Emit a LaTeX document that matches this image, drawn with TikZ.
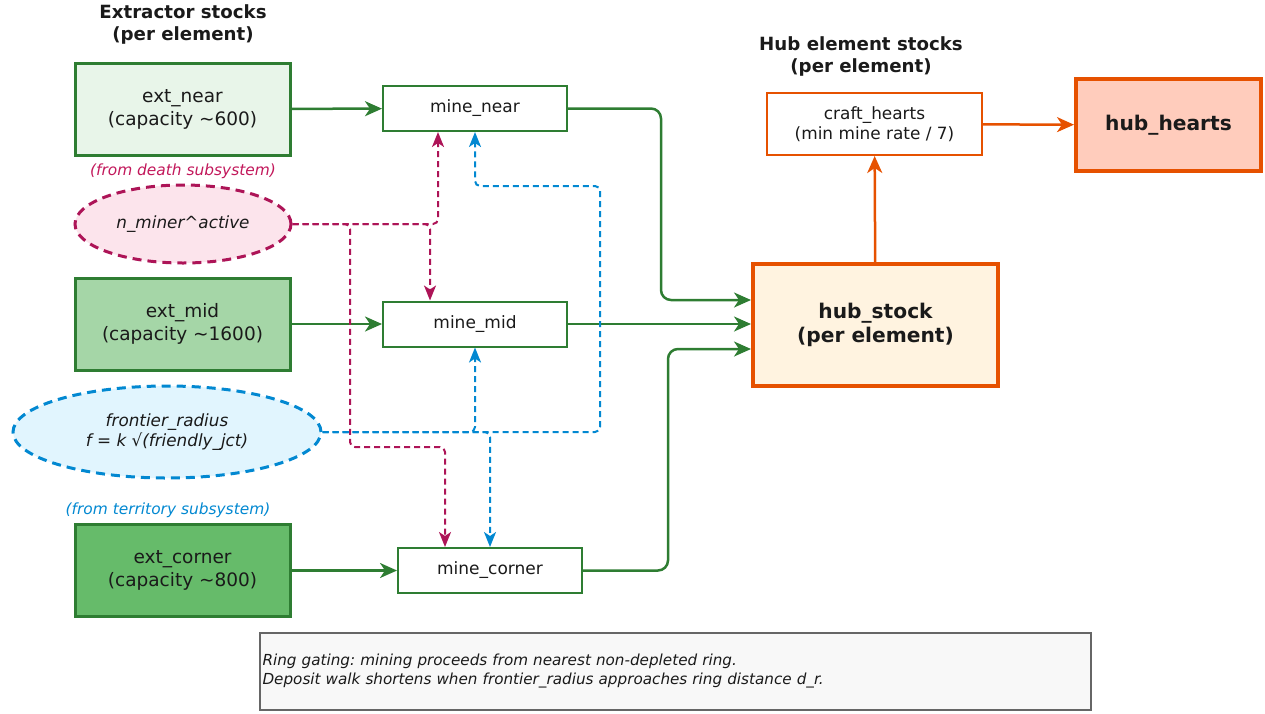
\documentclass[tikz,border=0pt]{standalone}
\usepackage{fontspec}
\setmainfont{DejaVu Sans}
\frenchspacing
\usetikzlibrary{arrows.meta,shapes.geometric,positioning}

\definecolor{flowgreen}{HTML}{2E7D32}
\definecolor{nearfill}{HTML}{E8F5E9}
\definecolor{midfill}{HTML}{A5D6A7}
\definecolor{cornerfill}{HTML}{66BB6A}
\definecolor{deathred}{HTML}{AD1457}
\definecolor{deathtext}{HTML}{C2185B}
\definecolor{deathfill}{HTML}{FCE4EC}
\definecolor{terrblue}{HTML}{0288D1}
\definecolor{terrfill}{HTML}{E1F5FE}
\definecolor{huborange}{HTML}{E65100}
\definecolor{hubfill}{HTML}{FFF3E0}
\definecolor{heartsfill}{HTML}{FFCCBC}
\definecolor{notefill}{HTML}{F8F8F8}
\definecolor{notegray}{HTML}{666666}
\definecolor{ink}{HTML}{1A1A1A}

\begin{document}
\begin{tikzpicture}
[x=1pt, y=-1pt, text=ink,
extbox/.style={rectangle, draw=flowgreen, line width=3pt, minimum width=215pt, minimum height=92pt, inner sep=0pt, align=center, font=\fontsize{18.5}{23}\selectfont},
minebox/.style={rectangle, draw=flowgreen, line width=2pt, fill=white, minimum width=184pt, minimum height=45pt, inner sep=0pt, font=\fontsize{17}{20}\selectfont},
source/.style={ellipse, draw, dashed, dash pattern=on 9pt off 6pt, line width=3pt, inner sep=0pt, align=center, font=\fontsize{16.8}{20}\selectfont\itshape},
sourcenote/.style={font=\fontsize{15.4}{18}\selectfont\itshape},
hubbox/.style={rectangle, draw=huborange, line width=4pt, inner sep=0pt, align=center, font=\fontsize{20.2}{24}\selectfont\bfseries},
heading/.style={align=center, font=\fontsize{18.2}{22}\selectfont\bfseries},
flow/.style={draw=flowgreen, line width=2.5pt, rounded corners=10pt, -{Stealth[length=17pt, width=15pt, inset=5pt]}},
hubflow/.style={draw=huborange, line width=2.5pt, -{Stealth[length=17pt, width=15pt, inset=5pt]}},
deathflow/.style={draw=deathred, line width=2pt, dashed, dash pattern=on 6pt off 4pt, rounded corners=5pt, -{Stealth[length=15pt, width=12pt, inset=4pt]}},
terrflow/.style={draw=terrblue, line width=2pt, dashed, dash pattern=on 6pt off 4pt, rounded corners=5pt, -{Stealth[length=15pt, width=12pt, inset=4pt]}}]

\useasboundingbox (0,0) rectangle (1265,713);

% headings
\node[heading] (extitle) at (183,24) {Extractor stocks\\(per element)};
\node[heading] (hubtitle) at (861,56) {Hub element stocks\\(per element)};

% extractor stocks and mining
\node[extbox, fill=nearfill] (ext_near) at (182.5,109) {ext\_near\\(capacity \textasciitilde600)};
\node[minebox] (mine_near) at (475,108.5) {mine\_near};

\node[extbox, fill=midfill] (ext_mid) at (182.5,324) {ext\_mid\\(capacity \textasciitilde1600)};
\node[minebox] (mine_mid) at (475,324) {mine\_mid};

\node[extbox, fill=cornerfill] (ext_corner) at (182.5,570.5) {ext\_corner\\(capacity \textasciitilde800)};
\node[minebox] (mine_corner) at (490,570.5) {mine\_corner};

% outside drivers
\node[sourcenote, text=deathtext] (deathlabel) at (183,171) {(from death subsystem)};
\node[source, draw=deathred, fill=deathfill, minimum width=216pt, minimum height=78pt] (n_miner) at (183,224) {n\_miner\textasciicircum active};

\node[source, draw=terrblue, fill=terrfill, minimum width=308pt, minimum height=92pt] (frontier) at (167,432) {frontier\_radius\\f = k √(friendly\_jct)};
\node[sourcenote, text=terrblue] (terrlabel) at (168,510) {(from territory subsystem)};

% hub
\node[hubbox, fill=hubfill, minimum width=245pt, minimum height=122pt] (hub_stock) at (875.5,325) {hub\_stock\\(per element)};
\node[rectangle, draw=huborange, line width=2pt, fill=white, minimum width=215pt, minimum height=62pt, inner sep=0pt, align=center, font=\fontsize{16.9}{20}\selectfont] (craft_hearts) at (874.5,124) {craft\_hearts\\(min mine rate / 7)};
\node[hubbox, fill=heartsfill, minimum width=185pt, minimum height=92pt] (hub_hearts) at (1168.5,125) {hub\_hearts};

% note
\node[rectangle, draw=notegray, line width=1.2pt, fill=notefill, minimum width=831pt, minimum height=77pt, text width=826pt, inner sep=2.5pt, align=left, font=\fontsize{15.2}{19}\selectfont\itshape] (note) at (675.5,671.5) {Ring gating: mining proceeds from nearest non-depleted ring.\\Deposit walk shortens when frontier\_radius approaches ring distance d\_r.};

% bends
\coordinate (dtap) at (350,447);
\coordinate (bloop) at (600,186);

% extraction
\draw[flow] (ext_near) -- (mine_near);
\draw[flow] (ext_mid) -- (mine_mid);
\draw[flow] (ext_corner) -- (mine_corner);

% into hub
\draw[flow] (mine_near.east) -- ++(93,0) |- ([yshift=25pt]hub_stock.west);
\draw[flow] (mine_mid.east) -- (mine_mid.east -| hub_stock.west);
\draw[flow] (mine_corner.east) -- ++(85,0) |- ([yshift=-24pt]hub_stock.west);
\draw[hubflow] (hub_stock) -- (craft_hearts);
\draw[hubflow] (craft_hearts) -- (hub_hearts);

% miner gating
\draw[deathflow] (n_miner.east) -| ([xshift=-37pt]mine_near.south);
\draw[deathflow] (n_miner.east) -| ([xshift=-45pt]mine_mid.north);
\draw[deathflow] (n_miner.east) -| (dtap) -| ([xshift=-45pt]mine_corner.north);

% frontier gating
\draw[terrflow] (frontier.east) -| (bloop) -| (mine_near.south);
\draw[terrflow] (frontier.east) -| (mine_mid.south);
\draw[terrflow] (frontier.east) -| (mine_corner.north);

\end{tikzpicture}
\end{document}
